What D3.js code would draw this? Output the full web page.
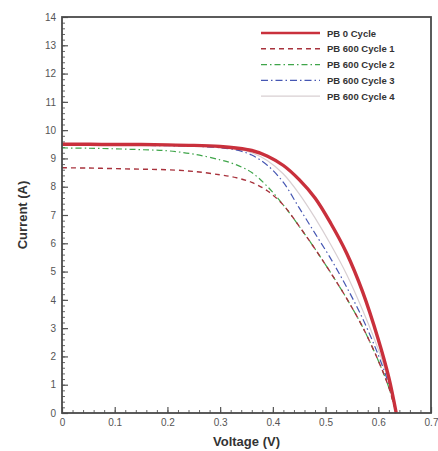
<!DOCTYPE html>
<html>
<head>
<meta charset="utf-8">
<script src="https://cdn.jsdelivr.net/npm/d3@7"></script>
<style>
  body { margin: 0; background: #fff; }
  text { font-family: "Liberation Sans", Arial, sans-serif; }
</style>
</head>
<body>
<script>
// data
var voltage = [0, 0.05, 0.1, 0.15, 0.2, 0.25, 0.3, 0.33, 0.36, 0.39, 0.42, 0.45, 0.48, 0.51, 0.54, 0.57, 0.6, 0.62, 0.634];
var pb0 =     [9.50, 9.50, 9.49, 9.49, 9.48, 9.46, 9.42, 9.37, 9.28, 9.08, 8.75, 8.25, 7.60, 6.70, 5.65, 4.30, 2.60, 1.25, 0];
var cycle1 =  [8.67, 8.66, 8.64, 8.62, 8.60, 8.54, 8.42, 8.32, 8.15, 7.85, 7.35, 6.60, 5.80, 4.95, 4.05, 3.05, 1.85, 0.90, 0];
var cycle2 =  [9.37, 9.36, 9.34, 9.31, 9.27, 9.15, 8.95, 8.78, 8.50, 8.00, 7.35, 6.60, 5.80, 4.95, 4.05, 3.05, 1.85, 0.90, 0];
var cycle3 =  [9.47, 9.47, 9.46, 9.46, 9.45, 9.43, 9.38, 9.30, 9.12, 8.75, 8.15, 7.25, 6.35, 5.45, 4.45, 3.35, 2.05, 1.00, 0];
var cycle4 =  [9.48, 9.48, 9.47, 9.47, 9.46, 9.44, 9.40, 9.34, 9.20, 8.92, 8.45, 7.75, 6.90, 5.95, 4.90, 3.65, 2.25, 1.10, 0];

var seriesNames = ["PB 0 Cycle", "PB 600 Cycle 1", "PB 600 Cycle 2", "PB 600 Cycle 3", "PB 600 Cycle 4"];
var seriesValues = [pb0, cycle1, cycle2, cycle3, cycle4];
var xTicks = [0, 0.1, 0.2, 0.3, 0.4, 0.5, 0.6, 0.7];
var yTicks = d3.range(0, 15, 1);

// styles per series
var styles = [
  { color: "#c9303c", width: 3.4, dash: null },
  { color: "#a8323c", width: 1.4, dash: "5,4" },
  { color: "#3fa54a", width: 1.2, dash: "6,3,1.5,3" },
  { color: "#4657b3", width: 1.2, dash: "7,3,1.5,3" },
  { color: "#d8cfd2", width: 1.2, dash: null }
];

var margin = { left: 62, right: 7, top: 17, bottom: 38 },
    width = 438 - margin.left - margin.right,
    height = 451 - margin.top - margin.bottom;

var svg = d3.select("body")
    .append("svg")
    .attr("width", width + margin.left + margin.right)
    .attr("height", height + margin.top + margin.bottom)
    .append("g")
    .attr("transform", "translate(" + margin.left + "," + margin.top + ")");

var x = d3.scaleLinear().domain([0, 0.7]).range([0, width]);
var y = d3.scaleLinear().domain([0, 14]).range([height, 0]);

// minor ticks
svg.append("g")
    .attr("transform", "translate(0," + height + ")")
    .call(d3.axisBottom(x).tickValues(d3.range(0, 0.7001, 0.02)).tickSize(-3).tickFormat(""))
    .call(function(g) { g.select(".domain").remove(); g.selectAll("line").attr("stroke", "#666"); });
svg.append("g")
    .call(d3.axisLeft(y).tickValues(d3.range(0, 14.001, 0.2)).tickSize(-3).tickFormat(""))
    .call(function(g) { g.select(".domain").remove(); g.selectAll("line").attr("stroke", "#666"); });

// major ticks
var xAxis = svg.append("g")
    .attr("transform", "translate(0," + height + ")")
    .call(d3.axisBottom(x).tickValues(xTicks).tickSize(-6).tickPadding(6)
        .tickFormat(function(d) { return d === 0 ? "0" : d3.format(".1f")(d); }));
var yAxis = svg.append("g")
    .call(d3.axisLeft(y).tickValues(yTicks).tickSize(-6).tickPadding(6));

[xAxis, yAxis].forEach(function(a) {
  a.select(".domain").remove();
  a.selectAll("line").attr("stroke", "#555").attr("stroke-width", 1.2);
  a.selectAll("text").attr("fill", "#555").style("font-size", "10px");
});

// curves, light one first, red on top
var line = d3.line().curve(d3.curveCatmullRom.alpha(0.5));
var drawOrder = [4, 3, 2, 1, 0];
drawOrder.forEach(function(i) {
  var pts = voltage.map(function(v, j) { return [x(v), y(seriesValues[i][j])]; });
  svg.append("path")
      .attr("d", line(pts))
      .attr("fill", "none")
      .attr("stroke", styles[i].color)
      .attr("stroke-width", styles[i].width)
      .attr("stroke-dasharray", styles[i].dash);
});

// frame
svg.append("rect")
    .attr("width", width)
    .attr("height", height)
    .attr("fill", "none")
    .attr("stroke", "#4a4a4a")
    .attr("stroke-width", 1.8);

// legend
var legend = svg.append("g").attr("transform", "translate(199,16)");
seriesNames.forEach(function(name, i) {
  var row = legend.append("g").attr("transform", "translate(0," + (i * 15.8) + ")");
  row.append("line")
      .attr("x1", 0).attr("x2", 59)
      .attr("stroke", styles[i].color)
      .attr("stroke-width", i === 0 ? 2.6 : styles[i].width)
      .attr("stroke-dasharray", styles[i].dash);
  row.append("text")
      .attr("x", 66).attr("y", 3.5)
      .attr("fill", "#333")
      .style("font-size", "9.5px")
      .style("font-weight", "bold")
      .text(name);
});

// axis titles
svg.append("text")
    .attr("x", width / 2)
    .attr("y", height + 33)
    .attr("text-anchor", "middle")
    .attr("fill", "#333")
    .style("font-size", "13px")
    .style("font-weight", "bold")
    .text("Voltage (V)");

svg.append("text")
    .attr("transform", "translate(-35," + (height / 2) + ") rotate(-90)")
    .attr("text-anchor", "middle")
    .attr("fill", "#333")
    .style("font-size", "13px")
    .style("font-weight", "bold")
    .text("Current (A)");
</script>
</body>
</html>
